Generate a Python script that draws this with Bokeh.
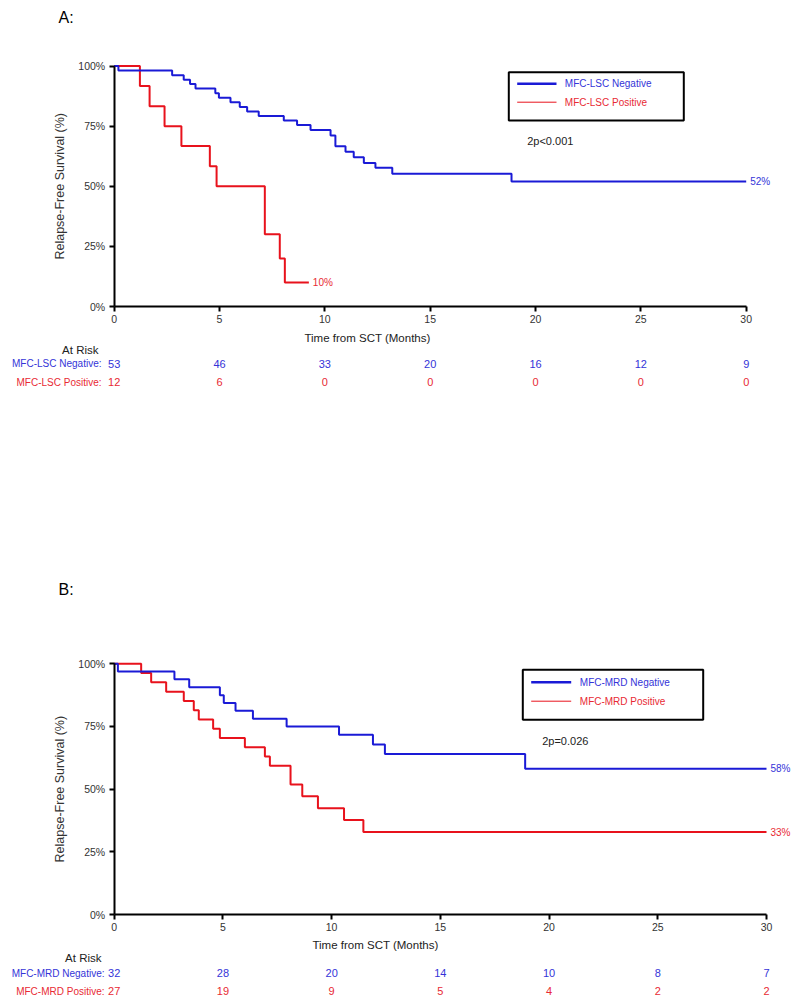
import numpy as np
from bokeh.plotting import figure
from bokeh.layouts import column
from bokeh.models import LinearAxis, FixedTicker, PrintfTickFormatter, Range1d
from bokeh.core.properties import value
from bokeh.embed import file_html
from bokeh.resources import INLINE

# ---------------- data ----------------
TICKS = [0, 5, 10, 15, 20, 25, 30]
Y_TICKS = [0, 25, 50, 75, 100]

# Panel A: MFC-LSC
A_NEG_T = [0, 0.2, 2.75, 3.3, 3.6, 3.86, 4.8, 4.97, 5.52, 5.96, 6.31, 6.86, 8.05, 8.68,
           9.32, 10.27, 10.5, 10.98, 11.37, 11.85, 12.4, 13.2, 18.86, 30]
A_NEG_S = [100, 98.1, 96.2, 94.3, 92.5, 90.6, 88.7, 86.8, 84.9, 83.0, 81.1, 79.2, 77.3, 75.5,
           73.4, 71.1, 66.6, 64.3, 62.1, 59.7, 57.7, 55.2, 52.0, 52.0]
A_POS_T = [0, 1.22, 1.68, 2.39, 3.19, 4.54, 4.86, 7.15, 7.86, 8.1, 9.24]
A_POS_S = [100, 91.7, 83.3, 75.0, 66.7, 58.3, 50.0, 30.0, 20.0, 10.0, 10.0]
A_NEG_RISK = [53, 46, 33, 20, 16, 12, 9]
A_POS_RISK = [12, 6, 0, 0, 0, 0, 0]

# Panel B: MFC-MRD
B_NEG_T = [0, 0.17, 2.77, 3.45, 4.86, 5.04, 5.58, 6.38, 7.93, 10.34, 11.9, 12.45, 18.9, 30]
B_NEG_S = [100, 96.9, 93.8, 90.6, 87.5, 84.4, 81.3, 78.1, 75.0, 71.7, 67.8, 64.0, 58.1, 58.1]
B_POS_T = [0, 1.24, 1.70, 2.39, 3.2, 3.66, 3.89, 4.55, 4.86, 6.01, 6.93, 7.16, 8.11, 8.65,
           9.37, 10.57, 11.46, 30]
B_POS_S = [100, 96.3, 92.6, 88.9, 85.2, 81.5, 77.8, 74.1, 70.4, 66.7, 63.0, 59.3, 51.9, 47.2,
           42.4, 37.7, 32.9, 32.9]
B_NEG_RISK = [32, 28, 20, 14, 10, 8, 7]
B_POS_RISK = [27, 19, 9, 5, 4, 2, 2]

# ---------------- style ----------------
BLUE = "#1a1ad6"
RED = "#e8121c"
BLUE_TXT = "#3434d8"
RED_TXT = "#e82a34"
SANS_NAME = "Liberation Sans"
SANS = value(SANS_NAME)
OFF = 0      # page offset of the canvas
W = 800


def make_panel(top, height, x0px, x30px, y100px, y0px):
    sx = (x30px - x0px) / 30.0
    sy = (y0px - y100px) / 100.0
    xs = -(x0px - OFF) / sx
    xe = xs + W / sx
    ye = (y0px - top) / sy
    ys = (y0px - (top + height)) / sy
    p = figure(width=W, height=height, x_range=Range1d(xs, xe), y_range=Range1d(ys, ye),
               output_backend="svg", toolbar_location=None, x_axis_location=None,
               y_axis_location=None, min_border=0, outline_line_color=None,
               background_fill_color="white", border_fill_color="white")
    p.xgrid.grid_line_color = None
    p.ygrid.grid_line_color = None
    fx = lambda v: (v - x0px) / sx
    fy = lambda v: (y0px - v) / sy

    xa = LinearAxis(fixed_location=0, bounds=(0, 30), ticker=FixedTicker(ticks=TICKS))
    ya = LinearAxis(fixed_location=0, bounds=(0, 100), ticker=FixedTicker(ticks=Y_TICKS),
                    formatter=PrintfTickFormatter(format="%d%%"))
    for ax in (xa, ya):
        ax.axis_line_width = 2
        ax.axis_line_color = "black"
        ax.major_tick_line_width = 2
        ax.major_tick_line_color = "black"
        ax.major_tick_out = 5
        ax.major_tick_in = 0
        ax.minor_tick_out = 0
        ax.minor_tick_in = 0
        ax.major_label_text_font = SANS_NAME
        ax.major_label_text_font_size = "10.5px"
        ax.major_label_text_color = "#333333"
    xa.major_label_standoff = 3
    ya.major_label_standoff = 4
    p.add_layout(xa, "below")
    p.add_layout(ya, "left")
    return p, fx, fy, sx


def add_text(p, x, y, s, color="#222222", size="11px", font=SANS, align="left", angle=0.0):
    p.text(x=[x], y=[y], text=[s], text_color=color, text_font_size=size, text_font=font,
           text_align=align, text_baseline="middle", angle=angle)


def build(panel, top, height, x0px, x30px, y100px, y0px, neg, pos, risk, names, legend_names,
          pval, ends, geo):
    p, fx, fy, sx = make_panel(top, height, x0px, x30px, y100px, y0px)
    (nt, ns), (pt, ps) = neg, pos
    p.step(x=pt, y=ps, mode="after", line_color=RED, line_width=2)
    p.step(x=nt, y=ns, mode="after", line_color=BLUE, line_width=2)

    # panel letter
    add_text(p, fx(58), fy(geo["title_y"]), panel, color="black", size="16px")
    # axis titles
    add_text(p, fx(59), fy((y100px + y0px) / 2), "Relapse-Free Survival (%)", color="#333333",
             size="12.5px", align="center", angle=np.pi / 2)
    add_text(p, fx(geo["xlab_x"]), fy(geo["xlab_y"]), "Time from SCT (Months)", color="#222222",
             size="11.5px", align="center")

    # legend box
    L, R, T, B = geo["box"]
    p.quad(left=[fx(L)], right=[fx(R)], top=[fy(T)], bottom=[fy(B)], fill_color="white",
           line_color="black", line_width=2)
    lx0, lx1, ly_b, ly_r, tx = geo["leg"]
    p.line(x=[fx(lx0), fx(lx1)], y=[fy(ly_b)] * 2, line_color=BLUE, line_width=2.5)
    p.line(x=[fx(lx0), fx(lx1)], y=[fy(ly_r)] * 2, line_color=RED, line_width=1)
    add_text(p, fx(tx), fy(ly_b), legend_names[0], color=BLUE_TXT, size="10px")
    add_text(p, fx(tx), fy(ly_r), legend_names[1], color=RED_TXT, size="10px")
    add_text(p, fx(geo["p"][0]), fy(geo["p"][1]), pval, color="#222222", size="11px")

    # end labels
    gap = 4 / sx
    (e1t, e1v, e1s), (e2t, e2v, e2s) = ends
    add_text(p, e1t + gap, e1v, e1s, color=BLUE_TXT, size="10px")
    add_text(p, e2t + gap, e2v, e2s, color=RED_TXT, size="10px")

    # at risk table
    ry0, ry1, ry2, lab_r = geo["risk"]
    add_text(p, fx(lab_r - 3), fy(ry0), "At Risk", color="#222222", size="11.5px",
             align="right")
    add_text(p, fx(lab_r), fy(ry1), names[0], color=BLUE_TXT, size="10px", align="right")
    add_text(p, fx(lab_r), fy(ry2), names[1], color=RED_TXT, size="10px", align="right")
    p.text(x=TICKS, y=[fy(ry1)] * len(TICKS), text=[str(v) for v in risk[0]],
           text_color=BLUE_TXT, text_font_size="11px", text_font=SANS,
           text_align="center", text_baseline="middle")
    p.text(x=TICKS, y=[fy(ry2)] * len(TICKS), text=[str(v) for v in risk[1]],
           text_color=RED_TXT, text_font_size="11px", text_font=SANS,
           text_align="center", text_baseline="middle")
    return p


pA = build("A:", 0, 500, 113.7, 745.7, 65.5, 306.0,
           (A_NEG_T, A_NEG_S), (A_POS_T, A_POS_S), (A_NEG_RISK, A_POS_RISK),
           ("MFC-LSC Negative:", "MFC-LSC Positive:"),
           ("MFC-LSC Negative", "MFC-LSC Positive"), "2p<0.001",
           ((A_NEG_T[-1], A_NEG_S[-1], "52%"), (A_POS_T[-1], A_POS_S[-1], "10%")),
           dict(title_y=17, xlab_x=367, xlab_y=337, box=(508.3, 683.3, 71.7, 120.0),
                leg=(516.7, 556.0, 83.3, 101.7, 564.3), p=(526.7, 140.0),
                risk=(349.3, 363.3, 381.7, 101)))

pB = build("B:", 500, 500, 113.7, 766.0, 663.3, 914.0,
           (B_NEG_T, B_NEG_S), (B_POS_T, B_POS_S), (B_NEG_RISK, B_POS_RISK),
           ("MFC-MRD Negative:", "MFC-MRD Positive:"),
           ("MFC-MRD  Negative", "MFC-MRD  Positive"), "2p=0.026",
           ((B_NEG_T[-1], B_NEG_S[-1], "58%"), (B_POS_T[-1], B_POS_S[-1], "33%")),
           dict(title_y=589, xlab_x=375, xlab_y=944, box=(522.3, 702.7, 669.3, 719.3),
                leg=(530.7, 570.7, 681.7, 700.7, 579.3), p=(541.7, 740.7),
                risk=(957.3, 972.7, 990.7, 104)))

layout = column(pA, pB, spacing=0)
open("out.html", "w").write(file_html(layout, INLINE))
